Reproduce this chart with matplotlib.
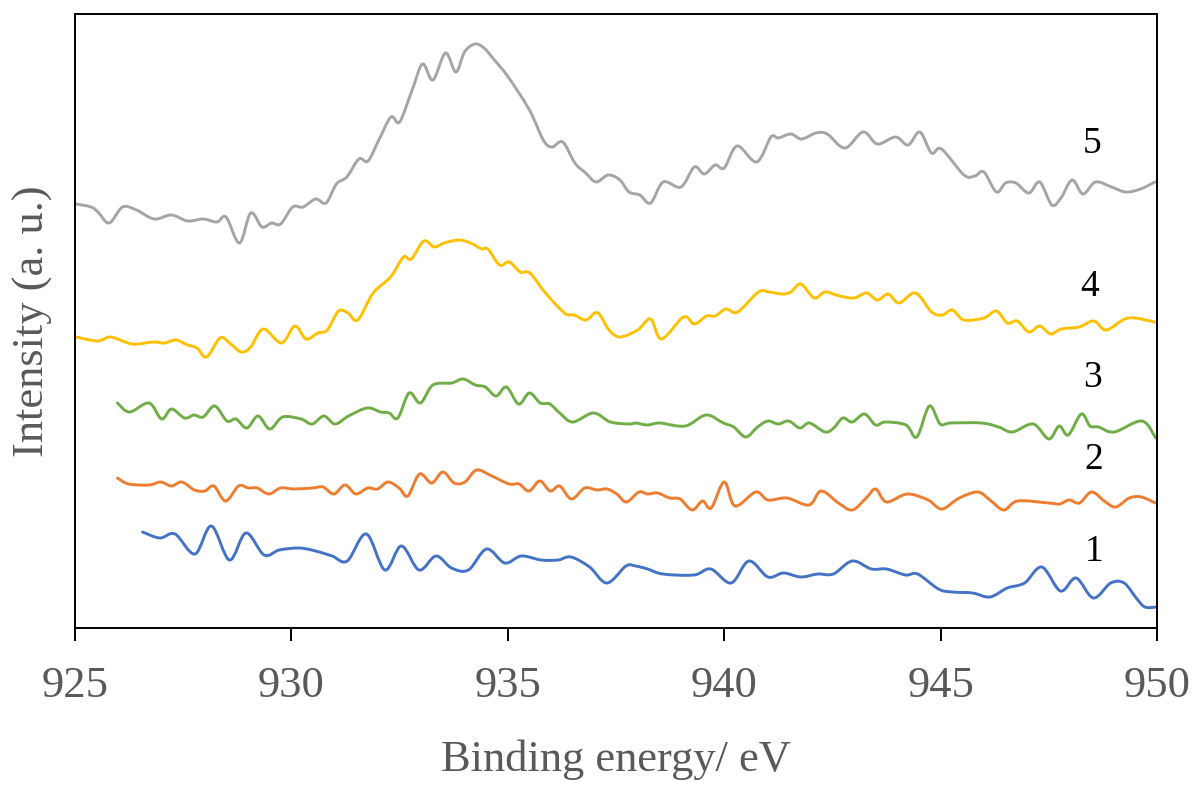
import matplotlib
matplotlib.use("Agg")
import matplotlib.pyplot as plt
from matplotlib.path import Path
from matplotlib.patches import PathPatch

# ---- data (binding energy in eV, intensity in arbitrary units) ----
e5 = [925.03, 925.37, 925.53, 925.79, 926.10, 926.42, 926.83, 927.23, 927.60, 927.96,
      928.28, 928.49, 928.80, 929.06, 929.32, 929.54, 929.75, 930.03, 930.27, 930.56,
      930.80, 931.04, 931.28, 931.56, 931.77, 932.02, 932.30, 932.50, 932.79, 933.03,
      933.27, 933.56, 933.80, 934.00, 934.24, 934.45, 934.69, 935.01, 935.50, 935.82,
      936.02, 936.27, 936.55, 936.80, 937.04, 937.32, 937.59, 937.80, 938.05, 938.30,
      938.59, 939.00, 939.31, 939.54, 939.79, 940.00, 940.30, 940.75, 941.08, 941.25,
      941.54, 941.79, 942.12, 942.38, 942.79, 943.21, 943.54, 943.96, 944.25, 944.52,
      944.79, 945.02, 945.54, 945.79, 946.00, 946.29, 946.50, 946.74, 947.04, 947.29,
      947.57, 947.78, 948.04, 948.29, 948.58, 948.95, 949.28, 949.62, 949.95]
i5 = [424, 421, 416, 405, 421, 418, 409, 413, 407, 409,
      406, 411, 385, 415, 401, 405, 404, 421, 421, 429,
      425, 444, 451, 469, 467, 488, 511, 506, 538, 564,
      548, 575, 556, 576, 584, 580, 568, 551, 518, 488,
      481, 486, 465, 455, 446, 453, 448, 436, 433, 425,
      446, 441, 461, 454, 463, 460, 482, 466, 491, 490,
      494, 489, 495, 494, 480, 496, 484, 491, 483, 496,
      475, 479, 453, 452, 456, 436, 445, 445, 435, 446,
      423, 430, 448, 434, 446, 441, 436, 439, 446]

e4 = [925.03, 925.52, 925.83, 926.32, 926.80, 927.07, 927.33, 927.60, 927.82, 928.04,
      928.35, 928.57, 928.84, 929.06, 929.35, 929.77, 930.08, 930.34, 930.61, 930.83,
      931.09, 931.31, 931.53, 931.89, 932.29, 932.59, 932.77, 933.06, 933.30, 933.53,
      933.87, 934.14, 934.40, 934.54, 934.81, 935.03, 935.29, 935.51, 935.87, 936.31,
      936.53, 936.80, 937.01, 937.13, 937.34, 937.59, 938.00, 938.30, 938.55, 939.06,
      939.31, 939.59, 939.79, 940.04, 940.31, 940.79, 941.04, 941.34, 941.54, 941.77,
      942.08, 942.33, 942.67, 943.00, 943.29, 943.54, 943.79, 944.04, 944.42, 944.79,
      945.04, 945.27, 945.54, 946.00, 946.29, 946.54, 946.77, 947.04, 947.29, 947.54,
      947.79, 948.20, 948.54, 948.83, 949.33, 949.95]
i4 = [291, 287, 291, 284, 286, 285, 288, 283, 280, 271,
      290, 285, 276, 281, 299, 285, 302, 289, 295, 298,
      317, 315, 308, 335, 351, 371, 369, 387, 381, 385,
      388, 385, 379, 379, 363, 366, 356, 355, 335, 315,
      313, 308, 315, 313, 298, 291, 298, 309, 289, 311,
      304, 312, 312, 319, 316, 336, 336, 334, 336, 344,
      330, 336, 332, 330, 335, 328, 334, 325, 335, 316,
      313, 318, 308, 310, 317, 305, 307, 296, 302, 294,
      299, 301, 307, 298, 310, 306]

e3 = [925.98, 926.26, 926.71, 927.00, 927.23, 927.53, 927.75, 927.96, 928.23, 928.51,
      928.72, 928.97, 929.23, 929.50, 929.80, 930.22, 930.48, 930.75, 931.01, 931.32,
      931.75, 932.06, 932.26, 932.46, 932.72, 932.98, 933.27, 933.70, 933.97, 934.25,
      934.48, 934.73, 934.97, 935.25, 935.50, 935.75, 935.97, 936.20, 936.50, 936.98,
      937.37, 937.82, 937.95, 938.23, 938.51, 939.10, 939.58, 939.98, 940.22, 940.50,
      940.77, 941.01, 941.25, 941.49, 941.75, 941.97, 942.33, 942.53, 942.74, 942.96,
      943.24, 943.50, 943.72, 944.20, 944.45, 944.74, 944.99, 945.23, 945.95, 946.34,
      946.66, 947.14, 947.50, 947.74, 947.95, 948.25, 948.45, 948.65, 949.01, 949.65,
      949.97]
i3 = [225, 216, 225, 209, 219, 210, 213, 211, 222, 207,
      209, 200, 212, 199, 211, 209, 204, 212, 204, 212,
      220, 216, 215, 210, 235, 225, 243, 245, 249, 243,
      241, 232, 241, 224, 235, 225, 224, 215, 206, 215,
      206, 204, 205, 203, 205, 202, 213, 205, 201, 191,
      201, 207, 204, 207, 200, 205, 196, 200, 210, 206,
      214, 203, 206, 203, 191, 222, 204, 205, 205, 201,
      196, 204, 189, 202, 193, 214, 202, 201, 196, 207,
      190]

e2 = [925.98, 926.24, 926.71, 926.98, 927.23, 927.47, 927.76, 928.00, 928.21, 928.48,
      928.78, 929.01, 929.21, 929.48, 929.75, 930.06, 930.49, 930.73, 930.98, 931.24,
      931.49, 931.76, 931.99, 932.23, 932.49, 932.69, 932.96, 933.24, 933.50, 933.76,
      934.01, 934.28, 934.63, 935.03, 935.26, 935.49, 935.74, 935.98, 936.20, 936.47,
      936.78, 937.06, 937.29, 937.52, 937.74, 938.03, 938.23, 938.46, 938.74, 938.98,
      939.26, 939.50, 939.70, 940.00, 940.25, 940.73, 941.01, 941.45, 941.96, 942.24,
      942.64, 942.96, 943.28, 943.50, 943.75, 944.23, 944.71, 945.03, 945.43, 945.86,
      946.14, 946.46, 946.78, 947.50, 947.75, 947.97, 948.21, 948.49, 948.81, 949.05,
      949.36, 949.64, 949.96]
i2 = [150, 144, 143, 146, 142, 146, 138, 137, 142, 127,
      142, 140, 140, 134, 140, 139, 140, 141, 134, 143,
      134, 140, 139, 146, 140, 132, 154, 145, 156, 145,
      146, 158, 152, 144, 144, 137, 147, 137, 142, 129,
      140, 138, 139, 134, 126, 136, 134, 135, 130, 129,
      118, 127, 120, 146, 122, 136, 128, 130, 123, 137,
      125, 118, 130, 139, 126, 134, 128, 119, 130, 136,
      128, 118, 127, 125, 124, 128, 125, 136, 126, 121,
      130, 131, 125]

e1 = [926.56, 926.96, 927.31, 927.77, 928.15, 928.57, 928.95, 929.37, 929.72, 930.18,
      930.56, 930.94, 931.29, 931.73, 932.16, 932.54, 932.95, 933.34, 933.70, 934.09,
      934.51, 934.93, 935.31, 935.77, 936.16, 936.46, 936.89, 937.29, 937.73, 937.95,
      938.23, 938.58, 939.30, 939.69, 940.16, 940.57, 941.01, 941.37, 941.77, 942.16,
      942.52, 942.96, 943.40, 943.75, 944.19, 944.47, 944.95, 945.27, 945.74, 946.14,
      946.54, 946.94, 947.34, 947.77, 948.13, 948.53, 948.93, 949.24, 949.52, 949.72,
      950.00]
i1 = [96, 90, 94, 74, 102, 68, 95, 73, 78, 80,
      77, 72, 67, 94, 58, 82, 58, 72, 60, 58,
      79, 65, 72, 68, 68, 71, 61, 45, 62, 62,
      59, 54, 53, 59, 45, 67, 51, 55, 51, 54,
      54, 67, 59, 59, 53, 54, 39, 36, 35, 31,
      40, 45, 61, 37, 50, 30, 45, 45, 30, 21,
      21]

series_labels = ["1", "2", "3", "4", "5"]
label_x = [948.55, 948.55, 948.50, 948.45, 948.50]
label_y = [76, 168, 250, 341, 484]

xticks = [925, 930, 935, 940, 945, 950]

# ---- styling ----
colors = ["#4472C4", "#ED7D31", "#70AD47", "#FFC000", "#A5A5A5"]
font = "Liberation Serif"
gray_txt = "#595959"


def smooth_path(xs, ys):
    """Smoothed-line rendering (Catmull-Rom as cubic Bezier) through the data points."""
    n = len(xs)
    verts = [(xs[0], ys[0])]
    codes = [Path.MOVETO]
    for k in range(n - 1):
        x0, y0 = (xs[k - 1], ys[k - 1]) if k > 0 else (xs[k], ys[k])
        x1, y1 = xs[k], ys[k]
        x2, y2 = xs[k + 1], ys[k + 1]
        x3, y3 = (xs[k + 2], ys[k + 2]) if k + 2 < n else (x2, y2)
        c1 = (x1 + (x2 - x0) / 6.0, y1 + (y2 - y0) / 6.0)
        c2 = (x2 - (x3 - x1) / 6.0, y2 - (y3 - y1) / 6.0)
        verts += [c1, c2, (x2, y2)]
        codes += [Path.CURVE4] * 3
    return Path(verts, codes)


fig = plt.figure(figsize=(11.95, 7.85), dpi=100)
ax = fig.add_axes([75 / 1195, 1 - 628 / 785, (1157 - 75) / 1195, (628 - 14) / 785])

for e, i, c in zip([e1, e2, e3, e4, e5], [i1, i2, i3, i4, i5], colors):
    patch = PathPatch(smooth_path(e, i), facecolor="none", edgecolor=c, lw=2.1,
                      joinstyle="round", capstyle="round", transform=ax.transData)
    ax.add_patch(patch)

for s, x, y in zip(series_labels, label_x, label_y):
    ax.text(x, y, s, fontsize=27, family=font, color="black", ha="center", va="center")

ax.set_xlim(925, 950)
ax.set_ylim(0, 614)
ax.set_xticks(xticks)
ax.set_xticklabels([str(t) for t in xticks], fontsize=32, family=font, color=gray_txt)
ax.set_yticks([])
ax.tick_params(axis="x", direction="out", length=9.5, width=1.4, pad=18, color="black")
for sp in ax.spines.values():
    sp.set_linewidth(1.4)
    sp.set_color("black")

ax.set_xlabel("Binding energy/ eV", fontsize=32, family=font, color=gray_txt, labelpad=24)
ax.set_ylabel("Intensity (a. u.)", fontsize=32, family=font, color=gray_txt, labelpad=16)

fig.savefig("out.png", dpi=100)
